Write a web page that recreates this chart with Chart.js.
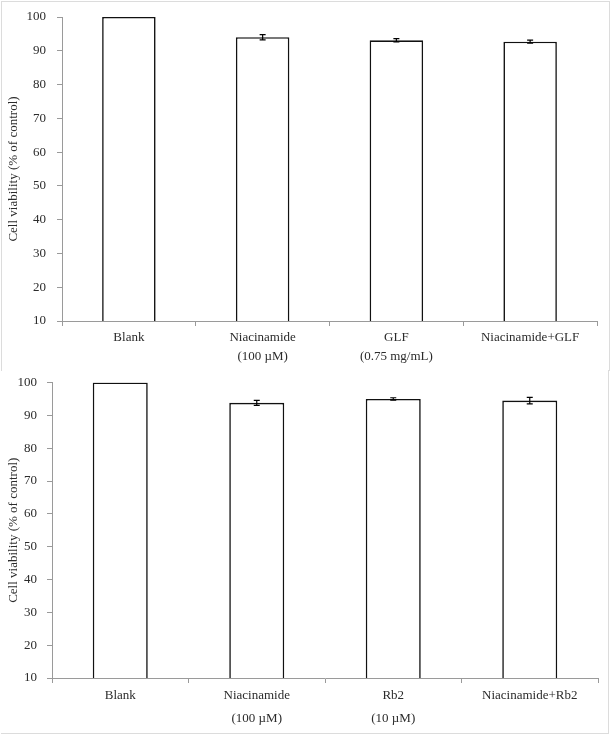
<!DOCTYPE html>
<html>
<head>
<meta charset="utf-8">
<script src="https://cdn.jsdelivr.net/npm/chart.js@4.4.1/dist/chart.umd.min.js"></script>
<style>
  html, body { margin: 0; padding: 0; background: #fff; }
  .panel { position: absolute; left: 0; width: 613px; }
  #topPanel { top: 0; height: 370px; }
  #bottomPanel { top: 370px; height: 367px; }
  .frameTop { position: absolute; left: 1px; top: 1px; width: 607px; height: 369px;
    border-top: 1px solid #dcdcdc; border-left: 1px solid #dcdcdc; border-right: 1px solid #dcdcdc; }
  .frameBottom { position: absolute; left: 1px; top: 370px; width: 607px; height: 363px;
    border-bottom: 1px solid #dcdcdc; border-right: 1px solid #dcdcdc; }
  canvas { position: absolute; left: 0; top: 0; }
</style>
</head>
<body>
<div class="frameTop"></div>
<div class="frameBottom"></div>
<div class="panel" id="topPanel"><canvas id="topChart" width="613" height="370"></canvas></div>
<div class="panel" id="bottomPanel"><canvas id="bottomChart" width="613" height="367"></canvas></div>
<script>
// top panel (GLF)
const topLabels = ["Blank", ["Niacinamide", "(100 µM)"], ["GLF", "(0.75 mg/mL)"], "Niacinamide+GLF"];
const topValues = [100, 94.0, 93.1, 92.7];
const topErrors = [0, 0.8, 0.5, 0.45];

// bottom panel (Rb2)
const bottomLabels = ["Blank", ["Niacinamide", "(100 µM)"], ["Rb2", "(10 µM)"], "Niacinamide+Rb2"];
const bottomValues = [100, 93.8, 95.0, 94.5];
const bottomErrors = [0, 0.75, 0.35, 1.0];

// y axis
const yMin = 10;
const yMax = 100;
const yStep = 10;
const yTitle = "Cell viability (% of control)";

const textColor = "#2b2b2b";
const axisColor = "#9a9a9a";
const fontFamily = "'Liberation Serif', 'Times New Roman', serif";

// simple error bars drawn through the y scale
const errorBars = {
  id: "errorBars",
  afterDatasetsDraw(chart) {
    const ctx = chart.ctx;
    const y = chart.scales.y;
    const errs = chart.options.plugins.errorBars.errors;
    const vals = chart.data.datasets[0].data;
    chart.getDatasetMeta(0).data.forEach((bar, i) => {
      const e = errs[i];
      if (!e) return;
      const yTop = y.getPixelForValue(vals[i] + e);
      const yBot = y.getPixelForValue(vals[i] - e);
      ctx.save();
      ctx.strokeStyle = "#000";
      ctx.lineWidth = 1.2;
      ctx.beginPath();
      ctx.moveTo(bar.x, yTop); ctx.lineTo(bar.x, yBot);
      ctx.moveTo(bar.x - 3, yTop); ctx.lineTo(bar.x + 3, yTop);
      ctx.moveTo(bar.x - 3, yBot); ctx.lineTo(bar.x + 3, yBot);
      ctx.stroke();
      ctx.restore();
    });
  }
};

function makeChart(id, labels, values, errors, g) {
  new Chart(document.getElementById(id).getContext("2d"), {
    type: "bar",
    data: {
      labels: labels,
      datasets: [{
        data: values,
        backgroundColor: "#fff",
        borderColor: "#111",
        borderWidth: 1.6,
        categoryPercentage: 1,
        barPercentage: g.barPct
      }]
    },
    options: {
      responsive: false,
      animation: false,
      devicePixelRatio: 1,
      layout: { padding: { top: g.top, right: g.right, left: 0, bottom: 0 } },
      plugins: {
        legend: { display: false },
        tooltip: { enabled: false },
        errorBars: { errors: errors }
      },
      scales: {
        x: {
          grid: { display: true, offset: true, drawOnChartArea: false, tickLength: 5, color: axisColor },
          border: { color: axisColor, width: 1 },
          ticks: {
            color: textColor, padding: g.xPad, maxRotation: 0, autoSkip: false,
            font: { family: fontFamily, size: 13, lineHeight: g.lineH }
          },
          afterFit(scale) { scale.height = g.xHeight; }
        },
        y: {
          min: yMin,
          max: yMax,
          ticks: { stepSize: yStep, color: textColor, padding: g.yPad, font: { family: fontFamily, size: 13 } },
          grid: { drawOnChartArea: false, tickLength: 5, color: axisColor },
          border: { color: axisColor, width: 1 },
          title: {
            display: true, text: yTitle, color: textColor,
            font: { family: fontFamily, size: 13 }, padding: { top: 6, bottom: 0 }
          },
          afterFit(scale) {
            scale.width = g.left;
            scale.paddingTop = 0;
            scale.paddingBottom = 0;
          }
        }
      }
    },
    plugins: [errorBars]
  });
}

makeChart("topChart", topLabels, topValues, topErrors,
  { top: 17, right: 16, left: 62, xHeight: 49, barPct: 0.4, xPad: 2, lineH: "19px", yPad: 11 });
makeChart("bottomChart", bottomLabels, bottomValues, bottomErrors,
  { top: 12.5, right: 15, left: 52, xHeight: 59, barPct: 0.403, xPad: 1, lineH: "23px", yPad: 10 });
</script>
</body>
</html>
